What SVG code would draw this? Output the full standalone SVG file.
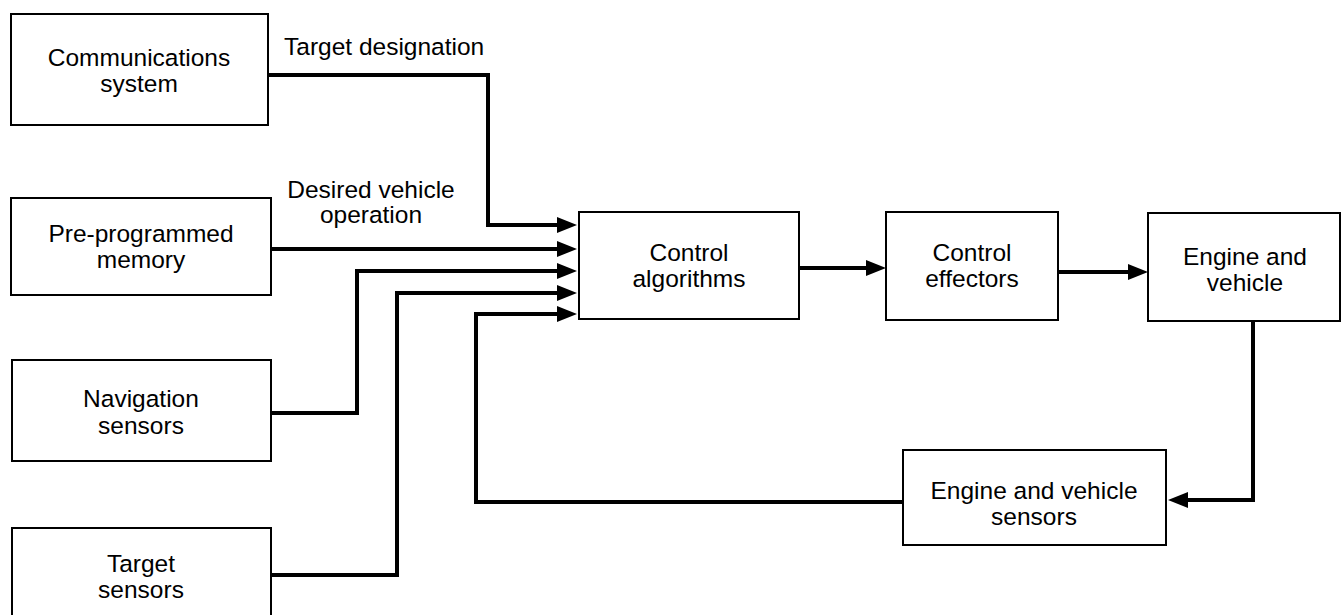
<svg xmlns="http://www.w3.org/2000/svg" width="1343" height="615" viewBox="0 0 1343 615">
<style>
.box{fill:#fff;stroke:#000;stroke-width:2}
.t{font-family:"Liberation Sans",Arial,sans-serif;font-size:24.5px;fill:#000;text-anchor:middle}
.ls{text-anchor:start}
.c{fill:none;stroke:#000;stroke-width:4;stroke-linejoin:miter}
</style>
<defs>
<marker id="ah" viewBox="0 0 20 16" refX="0" refY="8" markerWidth="20" markerHeight="16" markerUnits="userSpaceOnUse" orient="auto">
<path d="M0,0 L20,8 L0,16 z" fill="#000"/>
</marker>
</defs>
<rect width="1343" height="615" fill="#fff"/>
<g id="connectors">
<path class="c" d="M268,75 H488 V225 H557" marker-end="url(#ah)"/>
<path class="c" d="M271,249 H557" marker-end="url(#ah)"/>
<path class="c" d="M271,413 H357 V271 H557" marker-end="url(#ah)"/>
<path class="c" d="M271,575 H397 V293 H557" marker-end="url(#ah)"/>
<path class="c" d="M903,502 H476 V314 H557" marker-end="url(#ah)"/>
<path class="c" d="M799,268 H866" marker-end="url(#ah)"/>
<path class="c" d="M1058,272 H1128" marker-end="url(#ah)"/>
<path class="c" d="M1253,321 V500 H1188" marker-end="url(#ah)"/>
</g>
<g id="labels">
<text class="t ls" x="284" y="55">Target designation</text>
<text class="t" x="371" y="198">Desired vehicle</text>
<text class="t" x="371" y="223">operation</text>
</g>
<g id="comms">
<rect class="box" x="11" y="14" width="257" height="111"/>
<text class="t" x="139" y="66">Communications</text>
<text class="t" x="139" y="92">system</text>
</g>
<g id="memory">
<rect class="box" x="11" y="198" width="260" height="97"/>
<text class="t" x="141" y="242">Pre-programmed</text>
<text class="t" x="141" y="268">memory</text>
</g>
<g id="nav">
<rect class="box" x="12" y="360" width="259" height="101"/>
<text class="t" x="141" y="407">Navigation</text>
<text class="t" x="141" y="434">sensors</text>
</g>
<g id="targetsensors">
<rect class="box" x="12" y="528" width="259" height="98"/>
<text class="t" x="141" y="572">Target</text>
<text class="t" x="141" y="598">sensors</text>
</g>
<g id="control">
<rect class="box" x="579" y="212" width="220" height="107"/>
<text class="t" x="689" y="261">Control</text>
<text class="t" x="689" y="287">algorithms</text>
</g>
<g id="effectors">
<rect class="box" x="886" y="212" width="172" height="108"/>
<text class="t" x="972" y="261">Control</text>
<text class="t" x="972" y="287">effectors</text>
</g>
<g id="engine">
<rect class="box" x="1148" y="213" width="192" height="108"/>
<text class="t" x="1245" y="265">Engine and</text>
<text class="t" x="1245" y="291">vehicle</text>
</g>
<g id="enginesensors">
<rect class="box" x="903" y="450" width="263" height="95"/>
<text class="t" x="1034" y="499">Engine and vehicle</text>
<text class="t" x="1034" y="525">sensors</text>
</g>
</svg>
